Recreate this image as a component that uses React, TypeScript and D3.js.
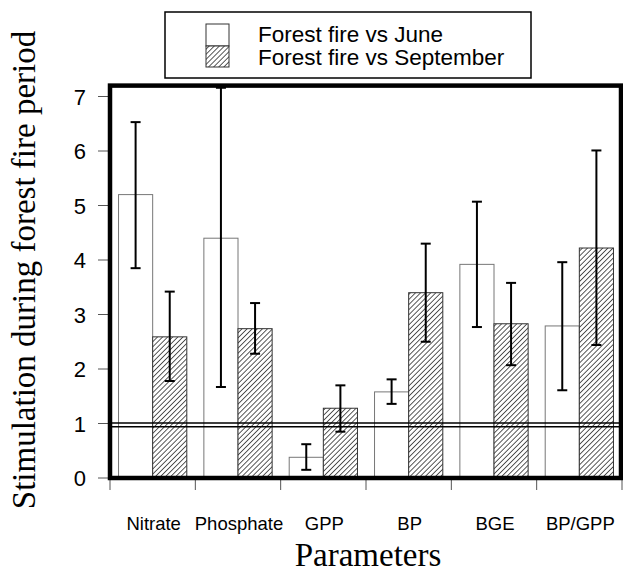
import React from "react";
import * as d3 from "d3";

const categories = ["Nitrate", "Phosphate", "GPP", "BP", "BGE", "BP/GPP"];
const juneValues = [5.2, 4.4, 0.38, 1.58, 3.92, 2.79];
const juneUpper = [6.53, 7.16, 0.62, 1.81, 5.07, 3.96];
const juneLower = [3.85, 1.67, 0.15, 1.36, 2.77, 1.61];
const sepValues = [2.59, 2.74, 1.28, 3.4, 2.83, 4.22];
const sepUpper = [3.42, 3.21, 1.7, 4.3, 3.58, 6.01];
const sepLower = [1.78, 2.28, 0.85, 2.5, 2.07, 2.44];
const yTicks = [0, 1, 2, 3, 4, 5, 6, 7];
const refLines = [1.01, 0.94];
const seriesNames = ["Forest fire vs June", "Forest fire vs September"];

const W = 623;
const H = 572;
const left = 110;
const right = 622;
const top = 85.6;
const bottom = 478;

export default function App() {
  const x = d3.scaleBand<string>().domain(categories).range([left, right]).padding(0);
  const y = d3.scaleLinear().domain([0, 7.2]).range([bottom, top]);
  const bw = x.bandwidth();
  const barW = bw * 0.4;
  const sans = "'Liberation Sans', Arial, Helvetica, sans-serif";
  const serif = "'Liberation Serif', 'Times New Roman', serif";

  const series = [
    { values: juneValues, upper: juneUpper, lower: juneLower, off: 0.1, fill: "#fff", stroke: "#777" },
    { values: sepValues, upper: sepUpper, lower: sepLower, off: 0.5, fill: "url(#hatch)", stroke: "#333" },
  ];

  const boundaries = categories.map((c) => x(c) as number).concat([right]);

  return (
    <svg width={W} height={H} style={{ position: "absolute", left: 0, top: 0, background: "#fff" }}>
      <defs>
        <pattern id="hatch" patternUnits="userSpaceOnUse" width={3.6} height={3.6} patternTransform="rotate(45)">
          <rect width={3.6} height={3.6} fill="#fff" />
          <line x1={0} y1={0} x2={0} y2={3.6} stroke="#222" strokeWidth={1.5} />
        </pattern>
      </defs>
      <rect x={0} y={0} width={W} height={H} fill="#fff" />

      {/* bars */}
      {series.map((s, si) =>
        categories.map((c, i) => (
          <rect
            key={`b${si}-${i}`}
            x={(x(c) as number) + bw * s.off}
            y={y(s.values[i])}
            width={barW}
            height={y(0) - y(s.values[i])}
            fill={s.fill}
            stroke={s.stroke}
            strokeWidth={1}
          />
        ))
      )}

      {/* reference lines */}
      {refLines.map((v, i) => (
        <line key={`r${i}`} x1={left} x2={right} y1={y(v)} y2={y(v)} stroke="#000" strokeWidth={1.5} />
      ))}

      {/* error bars */}
      {series.map((s, si) =>
        categories.map((c, i) => {
          const cx = (x(c) as number) + bw * s.off + barW / 2;
          return (
            <g key={`e${si}-${i}`} stroke="#000" strokeWidth={2}>
              <line x1={cx} x2={cx} y1={y(s.upper[i])} y2={y(s.lower[i])} />
              <line x1={cx - 5} x2={cx + 5} y1={y(s.upper[i])} y2={y(s.upper[i])} />
              <line x1={cx - 5} x2={cx + 5} y1={y(s.lower[i])} y2={y(s.lower[i])} />
            </g>
          );
        })
      )}

      {/* y ticks */}
      {yTicks.map((t) => (
        <g key={`yt${t}`}>
          <line x1={98} x2={left} y1={y(t)} y2={y(t)} stroke="#555" strokeWidth={1} />
          <text x={86} y={y(t) + 8} textAnchor="end" fontFamily={sans} fontSize={22} fill="#000">
            {t}
          </text>
        </g>
      ))}

      {/* x ticks */}
      {boundaries.map((b, i) => (
        <line key={`xt${i}`} x1={b} x2={b} y1={bottom} y2={490} stroke="#555" strokeWidth={1} />
      ))}

      {/* frame */}
      <rect x={left} y={top} width={right - left - 1} height={bottom - top} fill="none" stroke="#000" strokeWidth={4.5} />

      {/* x labels */}
      {categories.map((c) => (
        <text key={`xl${c}`} x={(x(c) as number) + bw / 2 + 1} y={530} textAnchor="middle" fontFamily={sans} fontSize={18.5} fill="#000">
          {c}
        </text>
      ))}

      {/* axis titles */}
      <text x={368} y={566} textAnchor="middle" fontFamily={serif} fontSize={33} fill="#000">
        Parameters
      </text>
      <text transform={`translate(35,270) rotate(-90)`} textAnchor="middle" fontFamily={serif} fontSize={33} fill="#000">
        Stimulation during forest fire period
      </text>

      {/* legend */}
      <rect x={165} y={12} width={366} height={66} fill="#fff" stroke="#000" strokeWidth={1.5} />
      <rect x={206} y={24} width={23} height={22} fill="#fff" stroke="#333" strokeWidth={1} />
      <rect x={206} y={46} width={23} height={21} fill="url(#hatch)" stroke="#333" strokeWidth={1} />
      <text x={258} y={42} fontFamily={sans} fontSize={22.5} fill="#000">
        {seriesNames[0]}
      </text>
      <text x={258} y={65} fontFamily={sans} fontSize={22.5} fill="#000">
        {seriesNames[1]}
      </text>
    </svg>
  );
}
